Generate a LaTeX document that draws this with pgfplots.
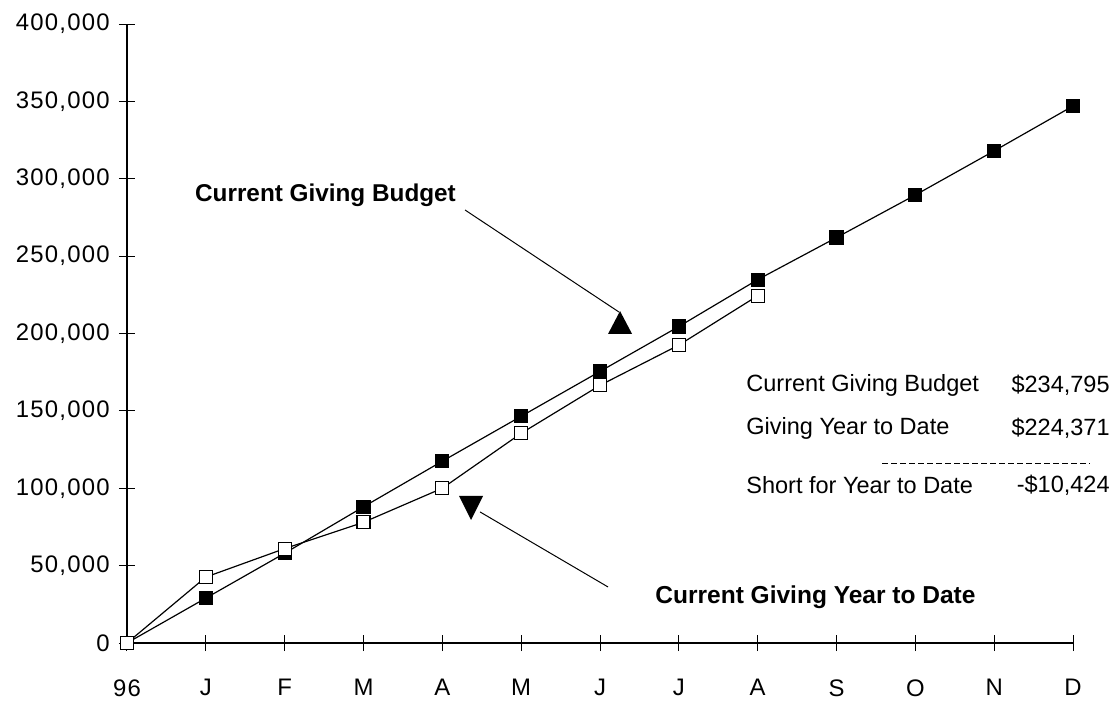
\documentclass[border=0pt]{standalone}
\usepackage{fontspec}
\setmainfont{Liberation Sans}
\newfontfamily\tickfont[LetterSpace=5]{Liberation Sans}
\usepackage{pgfplots}
\pgfplotsset{compat=1.18}
\pgfplotstableread{
x y
0 0
1 29000
2 58000
3 88000
4 117500
5 146500
6 175500
7 204500
8 234795
9 262000
10 289500
11 318000
12 347000
}\budget
\pgfplotstableread{
x y
0 0
1 42600
2 61000
3 78000
4 100000
5 135500
6 166500
7 192500
8 224371
}\actual
\begin{document}
\fontsize{11.8}{13}\selectfont
\begin{tikzpicture}
\begin{axis}[
  at={(0,0)}, anchor=south west,
  scale only axis, width=473bp, height=309.5bp,
  xmin=0, xmax=12, ymin=0, ymax=400000,
  axis x line=bottom, axis y line=left,
  axis line style={-, line width=0.6pt},
  xtick={0,...,12},
  xticklabels={96,J,F,M,A,M,J,J,A,S,O,N,D},
  ytick={0,50000,100000,150000,200000,250000,300000,350000,400000},
  yticklabels={0,{50,000},{100,000},{150,000},{200,000},{250,000},{300,000},{350,000},{400,000}},
  tick align=center, major tick length=8bp,
  tick style={black, line width=0.5pt},
  tick label style={font=\fontsize{12}{13}\tickfont},
  xticklabel style={inner sep=0pt, anchor=north, yshift=-14bp},
  yticklabel style={inner sep=0pt, anchor=east, xshift=-4.5bp},
  scaled y ticks=false,
  clip=false,
]
\addplot[black, line width=0.6pt, mark=square*, mark size=3.25bp, mark options={fill=black, draw=black}] table[x=x,y=y] {\budget};
\addplot[black, line width=0.6pt, mark=square*, mark size=3.25bp, mark options={fill=white, draw=black}] table[x=x,y=y] {\actual};
% annotations
\draw[line width=0.5pt] (axis cs:4.288,279800) -- (axis cs:6.24,213900);
\fill[black] (axis cs:6.254,214500) -- (axis cs:6.102,199700) -- (axis cs:6.407,199700) -- cycle;
\fill[black] (axis cs:4.212,95000) -- (axis cs:4.516,95000) -- (axis cs:4.364,79500) -- cycle;
\draw[line width=0.5pt] (axis cs:4.478,84700) -- (axis cs:6.102,36200);
\node[font=\bfseries\fontsize{12.2}{14}\selectfont, inner sep=0pt] at (axis cs:2.518,289500) {Current Giving Budget};
\node[font=\bfseries\fontsize{12.3}{14}\selectfont, inner sep=0pt, anchor=west] at (axis cs:6.698,29700) {Current Giving Year to Date};
\node[inner sep=0pt, anchor=west] at (axis cs:7.852,166700) {Current Giving Budget};
\node[inner sep=0pt, anchor=east] at (axis cs:12.47,166700) {\$234,795};
\node[inner sep=0pt, anchor=west] at (axis cs:7.852,138900) {Giving Year to Date};
\node[inner sep=0pt, anchor=east] at (axis cs:12.47,138900) {\$224,371};
\draw[line width=0.5pt, dash pattern=on 3bp off 1.5bp] (axis cs:9.578,116300) -- (axis cs:12.216,116300);
\node[inner sep=0pt, anchor=west] at (axis cs:7.852,102100) {Short for Year to Date};
\node[inner sep=0pt, anchor=east] at (axis cs:12.47,102100) {-\$10,424};
\end{axis}
\pgfresetboundingbox
\path (-63.5bp,-31.5bp) rectangle (494.5bp,321.5bp);
\end{tikzpicture}
\end{document}
